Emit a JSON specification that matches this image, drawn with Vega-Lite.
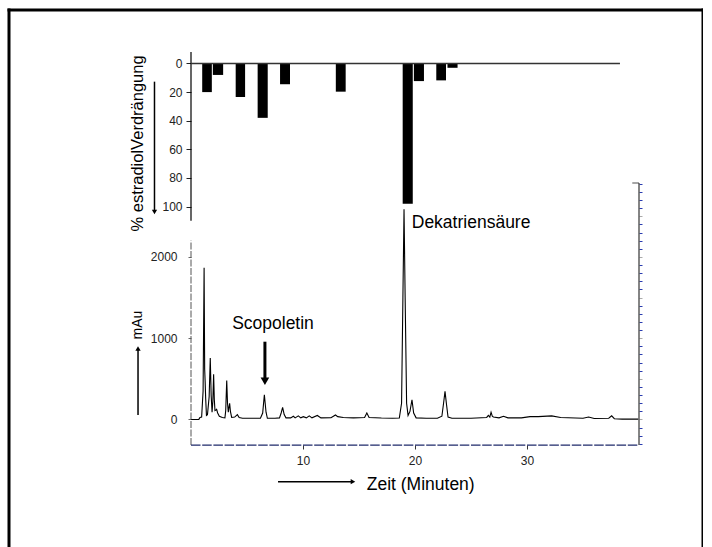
{
  "$schema": "https://vega.github.io/schema/vega-lite/v6.json",
  "width": 694,
  "height": 537,
  "autosize": {"type": "none"},
  "padding": {"left": 9, "top": 10, "right": 0, "bottom": 0},
  "background": "white",
  "config": {
    "view": {"stroke": null},
    "font": "Liberation Sans",
    "axis": {"grid": false, "title": null, "labelFont": "Liberation Sans", "labelFontSize": 12, "labelColor": "#222222", "labelFlush": false, "labelOverlap": false}
  },
  "datasets": {
    "chrom": [
      {"t": 0, "v": 0}, {"t": 0.7, "v": 2}, {"t": 0.8, "v": 25}, {"t": 0.95, "v": 30},
      {"t": 1.08, "v": 350}, {"t": 1.17, "v": 1867}, {"t": 1.22, "v": 620}, {"t": 1.26, "v": 480},
      {"t": 1.31, "v": 260}, {"t": 1.38, "v": 50}, {"t": 1.47, "v": 60}, {"t": 1.62, "v": 280},
      {"t": 1.72, "v": 757}, {"t": 1.8, "v": 300}, {"t": 1.88, "v": 90}, {"t": 1.95, "v": 220},
      {"t": 2.02, "v": 555}, {"t": 2.08, "v": 250}, {"t": 2.14, "v": 110}, {"t": 2.22, "v": 115},
      {"t": 2.29, "v": 125}, {"t": 2.38, "v": 80}, {"t": 2.53, "v": 40}, {"t": 2.8, "v": 25},
      {"t": 3.03, "v": 20}, {"t": 3.1, "v": 110}, {"t": 3.19, "v": 480}, {"t": 3.26, "v": 200},
      {"t": 3.33, "v": 90}, {"t": 3.39, "v": 150}, {"t": 3.45, "v": 200}, {"t": 3.52, "v": 100},
      {"t": 3.63, "v": 25}, {"t": 3.9, "v": 30}, {"t": 4.14, "v": 60}, {"t": 4.3, "v": 25},
      {"t": 4.6, "v": 15}, {"t": 5.5, "v": 15}, {"t": 6.2, "v": 15}, {"t": 6.4, "v": 80},
      {"t": 6.55, "v": 305}, {"t": 6.7, "v": 90}, {"t": 6.82, "v": 15}, {"t": 7.5, "v": 15},
      {"t": 7.9, "v": 20}, {"t": 8.05, "v": 80}, {"t": 8.18, "v": 150}, {"t": 8.32, "v": 60},
      {"t": 8.48, "v": 20}, {"t": 8.9, "v": 20}, {"t": 9.14, "v": 40}, {"t": 9.3, "v": 20},
      {"t": 9.58, "v": 45}, {"t": 9.8, "v": 20}, {"t": 10.03, "v": 35}, {"t": 10.3, "v": 20},
      {"t": 10.56, "v": 45}, {"t": 10.8, "v": 20}, {"t": 11.28, "v": 50}, {"t": 11.6, "v": 20},
      {"t": 12.5, "v": 22}, {"t": 12.9, "v": 55}, {"t": 13.1, "v": 35}, {"t": 13.6, "v": 25},
      {"t": 14.5, "v": 20}, {"t": 15.5, "v": 25}, {"t": 15.7, "v": 80}, {"t": 15.9, "v": 25},
      {"t": 17.0, "v": 18}, {"t": 18.0, "v": 15}, {"t": 18.6, "v": 18}, {"t": 18.8, "v": 200},
      {"t": 18.92, "v": 1500}, {"t": 19.02, "v": 2585}, {"t": 19.12, "v": 1500}, {"t": 19.25, "v": 200},
      {"t": 19.38, "v": 50}, {"t": 19.55, "v": 100}, {"t": 19.73, "v": 243}, {"t": 19.88, "v": 80},
      {"t": 20.1, "v": 20}, {"t": 21.0, "v": 15}, {"t": 22.0, "v": 15}, {"t": 22.4, "v": 40},
      {"t": 22.55, "v": 200}, {"t": 22.68, "v": 346}, {"t": 22.8, "v": 200}, {"t": 22.95, "v": 30},
      {"t": 23.3, "v": 15}, {"t": 25.0, "v": 15}, {"t": 26.4, "v": 25}, {"t": 26.55, "v": 50},
      {"t": 26.68, "v": 30}, {"t": 26.79, "v": 90}, {"t": 26.9, "v": 40}, {"t": 27.0, "v": 30},
      {"t": 27.5, "v": 20}, {"t": 27.9, "v": 40}, {"t": 28.3, "v": 20}, {"t": 29.5, "v": 20},
      {"t": 30.27, "v": 35}, {"t": 31.0, "v": 35}, {"t": 32.2, "v": 45}, {"t": 33.0, "v": 25},
      {"t": 35.0, "v": 15}, {"t": 35.5, "v": 30}, {"t": 36.0, "v": 12}, {"t": 37.3, "v": 15},
      {"t": 37.56, "v": 45}, {"t": 37.8, "v": 10}, {"t": 38.5, "v": 5}, {"t": 39.94, "v": 5}
    ],
    "bars": [
      {"start": 1.0, "end": 1.86, "p": 20},
      {"start": 1.95, "end": 2.87, "p": 8},
      {"start": 3.99, "end": 4.83, "p": 23.5},
      {"start": 5.95, "end": 6.85, "p": 38},
      {"start": 7.95, "end": 8.84, "p": 14.5},
      {"start": 12.93, "end": 13.81, "p": 19.7},
      {"start": 18.9, "end": 19.8, "p": 98},
      {"start": 19.9, "end": 20.8, "p": 12.3},
      {"start": 21.9, "end": 22.77, "p": 11.8},
      {"start": 22.9, "end": 23.8, "p": 3}
    ]
  },
  "resolve": {"scale": {"y": "independent"}},
  "layer": [
    {
      "layer": [
        {
          "data": {"name": "chrom"},
          "mark": {"type": "line", "color": "black", "strokeWidth": 1.1},
          "encoding": {
            "x": {"field": "t", "type": "quantitative", "scale": {"domain": [-16.25, 45.714], "nice": false, "zero": false},
                  "axis": {"orient": "bottom", "offset": -102, "values": [10, 20, 30], "format": "d", "domain": false, "tickSize": 4, "tickColor": "#333333", "labelPadding": 6}},
            "y": {"field": "v", "type": "quantitative", "scale": {"domain": [-1568.3, 5036.9], "nice": false, "zero": false},
                  "axis": {"orient": "left", "offset": -182, "values": [0, 1000, 2000], "format": "d", "domain": false, "tickSize": 3, "tickColor": "#666666", "labelPadding": 11}}
          }
        },
        {
          "data": {"values": [{"t": -16.25, "v1": -1568.3, "v2": 5036.9}, {"t": 45.714, "v1": -1568.3, "v2": 5036.9}]},
          "mark": {"type": "rule", "color": "black", "strokeWidth": 3, "strokeCap": "square"},
          "encoding": {
            "x": {"field": "t", "type": "quantitative"},
            "y": {"field": "v1", "type": "quantitative"},
            "y2": {"field": "v2"}
          }
        },
        {
          "data": {"values": [{"t1": -16.25, "t2": 45.714, "v": 5036.9}]},
          "mark": {"type": "rule", "color": "black", "strokeWidth": 3, "strokeCap": "square"},
          "encoding": {
            "x": {"field": "t1", "type": "quantitative"},
            "x2": {"field": "t2"},
            "y": {"field": "v", "type": "quantitative"}
          }
        },
        {
          "data": {"values": [{"t": 0, "v1": -314, "v2": 2200}]},
          "mark": {"type": "rule", "color": "#555555", "strokeWidth": 1, "strokeDash": [7, 1.5]},
          "encoding": {
            "x": {"field": "t", "type": "quantitative"},
            "y": {"field": "v1", "type": "quantitative"},
            "y2": {"field": "v2"}
          }
        },
        {
          "data": {"values": [{"t1": 0, "t2": 40, "v": -314}]},
          "mark": {"type": "rule", "color": "#1f2a6b", "strokeWidth": 1.2, "strokeDash": [9.5, 1.7]},
          "encoding": {
            "x": {"field": "t1", "type": "quantitative"},
            "x2": {"field": "t2"},
            "y": {"field": "v", "type": "quantitative"}
          }
        },
        {
          "data": {"values": [{"t1": 39.4, "t2": 40, "v": 2909}]},
          "mark": {"type": "rule", "color": "#888888", "strokeWidth": 1.5},
          "encoding": {
            "x": {"field": "t1", "type": "quantitative"},
            "x2": {"field": "t2"},
            "y": {"field": "v", "type": "quantitative"}
          }
        },
        {
          "data": {"values": [{"t": 6.6, "v1": 957, "v2": 474}, {"t": -4.73, "v1": 55, "v2": 860}]},
          "mark": {"type": "rule", "color": "black"},
          "encoding": {
            "x": {"field": "t", "type": "quantitative"},
            "y": {"field": "v1", "type": "quantitative"},
            "y2": {"field": "v2"},
            "strokeWidth": {"condition": {"test": "datum.t > 0", "value": 3}, "value": 1.5}
          }
        },
        {
          "data": {"values": [{"t": 6.6, "v": 469}]},
          "mark": {"type": "point", "shape": "triangle-down", "filled": true, "color": "black", "size": 75, "opacity": 1},
          "encoding": {
            "x": {"field": "t", "type": "quantitative"},
            "y": {"field": "v", "type": "quantitative"}
          }
        },
        {
          "data": {"values": [{"t": -4.73, "v": 873}]},
          "mark": {"type": "point", "shape": "triangle-up", "filled": true, "color": "black", "size": 28, "opacity": 1},
          "encoding": {
            "x": {"field": "t", "type": "quantitative"},
            "y": {"field": "v", "type": "quantitative"}
          }
        },
        {
          "data": {"values": [{"t1": 7.77, "t2": 14.3, "v": -765}]},
          "mark": {"type": "rule", "color": "black", "strokeWidth": 1.5},
          "encoding": {
            "x": {"field": "t1", "type": "quantitative"},
            "x2": {"field": "t2"},
            "y": {"field": "v", "type": "quantitative"}
          }
        },
        {
          "data": {"values": [{"t": 14.46, "v": -765}]},
          "mark": {"type": "point", "shape": "triangle-right", "filled": true, "color": "black", "size": 28, "opacity": 1},
          "encoding": {
            "x": {"field": "t", "type": "quantitative"},
            "y": {"field": "v", "type": "quantitative"}
          }
        },
        {
          "data": {"values": [{"t": 7.32, "v": 1107, "label": "Scopoletin"}]},
          "mark": {"type": "text", "font": "Liberation Sans", "fontSize": 17.5, "align": "center", "baseline": "alphabetic", "color": "black"},
          "encoding": {
            "x": {"field": "t", "type": "quantitative"},
            "y": {"field": "v", "type": "quantitative"},
            "text": {"field": "label"}
          }
        },
        {
          "data": {"values": [{"t": 19.71, "v": 2355, "label": "Dekatriensäure"}, {"t": 15.69, "v": -867, "label": "Zeit (Minuten)"}]},
          "mark": {"type": "text", "font": "Liberation Sans", "fontSize": 17.5, "align": "left", "baseline": "alphabetic", "color": "black"},
          "encoding": {
            "x": {"field": "t", "type": "quantitative"},
            "y": {"field": "v", "type": "quantitative"},
            "text": {"field": "label"}
          }
        },
        {
          "data": {"values": [{"t": -4.71, "v": 1162, "label": "mAu"}]},
          "mark": {"type": "text", "font": "Liberation Sans", "fontSize": 14, "angle": 270, "align": "center", "baseline": "middle", "color": "black"},
          "encoding": {
            "x": {"field": "t", "type": "quantitative"},
            "y": {"field": "v", "type": "quantitative"},
            "text": {"field": "label"}
          }
        }
      ]
    },
    {
      "layer": [
        {
          "data": {"name": "bars"},
          "mark": {"type": "bar", "color": "black"},
          "encoding": {
            "x": {"field": "start", "type": "quantitative", "scale": {"domain": [-16.25, 45.714], "nice": false, "zero": false}},
            "x2": {"field": "end"},
            "y": {"field": "p", "type": "quantitative", "scale": {"domain": [-37.41, 338.1], "nice": false, "zero": false, "reverse": true},
                  "axis": {"orient": "left", "offset": -182, "values": [0, 20, 40, 60, 80, 100], "format": "d", "domain": false, "tickSize": 5, "tickColor": "#222222", "labelPadding": 4}},
            "y2": {"datum": 0}
          }
        },
        {
          "data": {"values": [{"t": 0, "p1": -8, "p2": 110}]},
          "mark": {"type": "rule", "color": "black", "strokeWidth": 1.2},
          "encoding": {
            "x": {"field": "t", "type": "quantitative"},
            "y": {"field": "p1", "type": "quantitative"},
            "y2": {"field": "p2"}
          }
        },
        {
          "data": {"values": [{"t1": 0, "t2": 38.3, "p": 0}]},
          "mark": {"type": "rule", "color": "#333333", "strokeWidth": 1.4},
          "encoding": {
            "x": {"field": "t1", "type": "quantitative"},
            "x2": {"field": "t2"},
            "y": {"field": "p", "type": "quantitative"}
          }
        },
        {
          "data": {"values": [{"t": -3.26, "p1": 12.7, "p2": 103}]},
          "mark": {"type": "rule", "color": "black", "strokeWidth": 1.5},
          "encoding": {
            "x": {"field": "t", "type": "quantitative"},
            "y": {"field": "p1", "type": "quantitative"},
            "y2": {"field": "p2"}
          }
        },
        {
          "data": {"values": [{"t": -3.26, "p": 103.8}]},
          "mark": {"type": "point", "shape": "triangle-down", "filled": true, "color": "black", "size": 28, "opacity": 1},
          "encoding": {
            "x": {"field": "t", "type": "quantitative"},
            "y": {"field": "p", "type": "quantitative"}
          }
        },
        {
          "data": {"values": [{"t": -4.73, "p": 55.9, "label": "% estradiolVerdrängung"}]},
          "mark": {"type": "text", "font": "Liberation Sans", "fontSize": 16.5, "angle": 270, "align": "center", "baseline": "middle", "color": "black"},
          "encoding": {
            "x": {"field": "t", "type": "quantitative"},
            "y": {"field": "p", "type": "quantitative"},
            "text": {"field": "label"}
          }
        }
      ]
    },
    {
      "data": {"values": [{"t": 40, "v1": -314, "v2": 2909}]},
      "mark": {"type": "rule", "color": "#333333", "strokeWidth": 1.2},
      "encoding": {
        "x": {"field": "t", "type": "quantitative", "scale": {"domain": [-16.25, 45.714], "nice": false, "zero": false}},
        "y": {"field": "v1", "type": "quantitative", "scale": {"domain": [-1568.3, 5036.9], "nice": false, "zero": false},
              "axis": {"orient": "right", "offset": -64, "domain": false, "labels": false, "tickSize": 3,
                       "values": [-300, -200, -100, 0, 100, 200, 300, 400, 500, 600, 700, 800, 900, 1000, 1100, 1200, 1300, 1400, 1500, 1600, 1700, 1800, 1900, 2000, 2100, 2200, 2300, 2400, 2500, 2600, 2700, 2800, 2900],
                       "tickColor": {"condition": {"test": "datum.value % 500 === 0", "value": "#aaaaaa"}, "value": "#2a3cb0"}}},
        "y2": {"field": "v2"}
      }
    }
  ]
}
